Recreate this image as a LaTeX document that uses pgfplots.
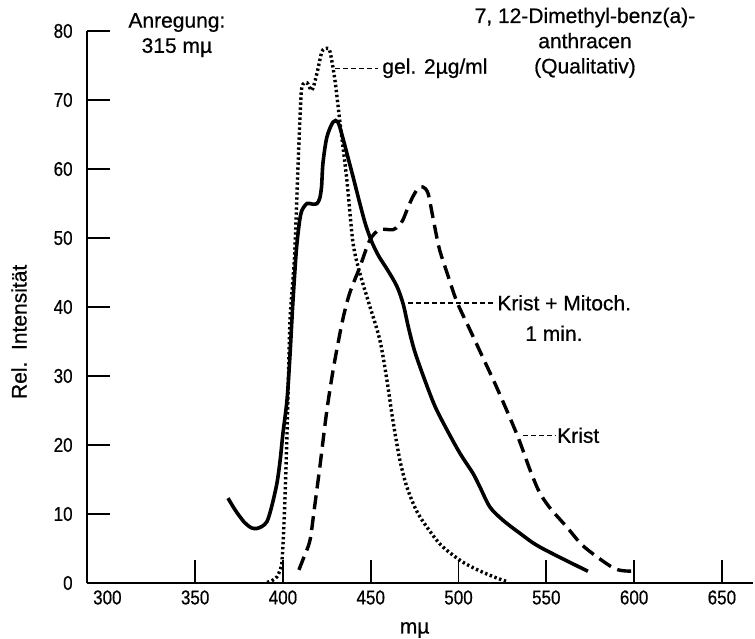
\documentclass[border=0pt]{standalone}
\usepackage{fontspec}
\setmainfont[FakeBold=0.6]{Liberation Sans}
\newfontfamily\tickfont[FakeStretch=0.85,FakeBold=0.6]{Liberation Sans}
\usepackage{pgfplots}
\pgfplotsset{compat=1.18}
\begin{document}
\fontsize{10.5}{12.6}\selectfont
\begin{tikzpicture}
\path[use as bounding box] (-43.5pt,-27.5pt) rectangle (334pt,291.5pt);
\begin{axis}[
  at={(0,0)}, anchor=south west,
  scale only axis, width=333pt, height=276pt,
  xmin=288.4, xmax=667.7, ymin=0, ymax=80,
  axis lines=left, axis line style={-, line width=1pt},
  xtick={350,400,...,650}, ytick={0,10,...,80},
  extra x ticks={300}, extra x tick style={major tick length=0pt},
  tick align=inside, major tick length=11.5pt,
  tick style={line width=0.9pt, black},
  /pgf/number format/assume math mode=true,
  ticklabel style={font=\tickfont\fontsize{10}{12}\selectfont},
  yticklabel style={xshift=-3.5pt},
  clip=false,
]
% Krist + Mitoch. 1 min (solid)
\addplot[black, line width=1.8pt, smooth, tension=0.5] coordinates {
(368.7,12.3) (373,10.5) (378,8.8) (382,8.0) (385,7.9) (388,8.2) (390.9,8.9)
(393.5,11) (396.6,14.5) (398.5,18) (400,21.7) (402.3,26.5) (404,33) (405.5,40)
(407,46) (408,49.3) (409.5,52.5) (410.8,54) (413.7,55) (417,54.9) (419.4,55)
(421,55.8) (422,57.5) (422.8,60.9) (425,64.6) (428.5,66.8) (431.3,66.8) (434,64.6)
(437,61.7) (439.9,58.9) (443.8,55) (447,52) (450.5,49.5) (454.5,47.4) (459.5,45.4) (464.9,43)
(468.5,40.4) (471.5,37) (475,33.6) (480.5,29.6) (486.6,25.6) (493.4,22.2) (500.8,18.8)
(508.2,15.9) (512.2,13.9) (517.9,11) (525.3,9.1) (535,7.2) (546.4,5.2) (573.7,1.7)
};
% Krist (dashed)
\addplot[black, line width=1.7pt, dash pattern=on 7pt off 3.5pt, smooth, tension=0.5] coordinates {
(409.1,1.9) (412,3.8) (415.4,6.2) (418,11) (421,16.8) (425,25) (429,31.5)
(434,38.1) (438,42) (443.8,45.8) (449.5,49.7) (455,51.2) (462.6,51.2) (466,51.8)
(468.3,52.6) (471,54.3) (474,56) (477,57.2) (479.7,57.4) (482.6,56.5) (485.4,53)
(489,48.5) (493.4,45) (499,40.8) (506.5,36.7) (514,32.6) (522,28.2)
(533.3,21.5) (540.7,16.4) (546,13.2)
(552,10.9) (561.7,8.1) (570,5.6) (578.8,3.8) (588,2.2) (593,1.8) (599.3,1.7)
};
% gel. 2 ug/ml (dotted)
\addplot[black, line width=1.7pt, dash pattern=on 1.2pt off 1.3pt, smooth, tension=0.5] coordinates {
(390.9,0.1) (393.5,0.3) (396.6,0.9) (398.5,2) (399.4,3) (400.3,7) (401.1,12)
(402,19) (402.8,26.5) (404,38) (405.7,44) (406.8,48.3) (408.5,60) (409.8,68)
(410.8,71.9) (413.7,72.5) (416.5,71.4) (419.4,73.9) (422.2,77) (425,77.5)
(426.8,77) (429.6,72.9) (432.5,66.7) (436.4,58.4) (439.9,49.3) (443.8,44.9)
(449,40.5) (455.2,35.2) (459.2,29.4) (462.6,23.6) (466.6,17.8) (470.6,13.9)
(476,10.5) (482,8.1) (490,5.5) (500.8,3.3) (510,2) (520,0.9) (527.6,0.2)
};
% leaders
\draw[black, line width=0.7pt, dash pattern=on 2.5pt off 1.5pt] (axis cs:429.6,74.6) -- (axis cs:454.1,74.6);
\draw[black, line width=0.7pt, dash pattern=on 2.5pt off 1.5pt] (axis cs:471.2,40.6) -- (axis cs:520.7,40.6);
\draw[black, line width=0.7pt, dash pattern=on 2.5pt off 1.5pt] (axis cs:536.7,21.4) -- (axis cs:555,21.4);
% texts
\node[align=center, inner sep=0pt] at (axis cs:339.6,79.4) {Anregung:\\315 mµ};
\node[anchor=west, inner sep=0pt] at (axis cs:456.4,74.6) {gel. 2µg/ml};
\node[align=center, inner sep=0pt] at (axis cs:572,78.3) {7, 12-Dimethyl-benz(a)-\\anthracen\\(Qualitativ)};
\node[anchor=west, inner sep=0pt] at (axis cs:521.9,40.6) {Krist + Mitoch.};
\node[anchor=west, inner sep=0pt] at (axis cs:537.8,36.2) {1 min.};
\node[anchor=west, inner sep=0pt] at (axis cs:556,21.4) {Krist};
\node[rotate=90, inner sep=0pt] at ([xshift=-34pt]axis cs:288.4,36.4) {Rel.\ \ Intensität};
\node[inner sep=0pt] at ([yshift=-23.5pt]axis cs:475,0) {mµ};
\end{axis}
\end{tikzpicture}
\end{document}
